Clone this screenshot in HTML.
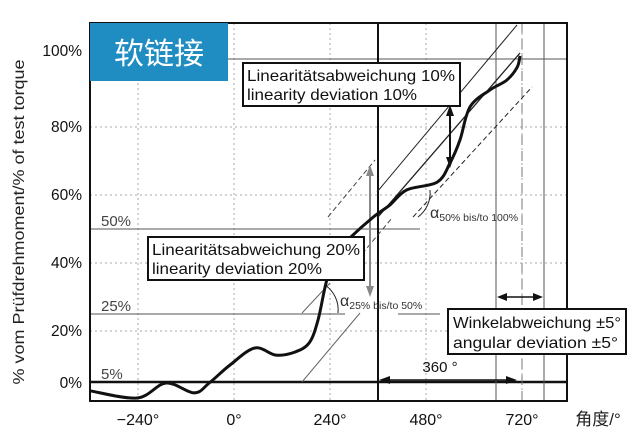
<!DOCTYPE html>
<html><head><meta charset="utf-8"><style>
html,body{margin:0;padding:0;background:#fff;}
svg{display:block;font-family:"Liberation Sans","Noto Sans CJK SC",sans-serif;}
</style></head><body>
<svg id="chart" width="640" height="446" viewBox="0 0 640 446">
<g id="grid"></g>
<g id="guides">
  <line x1="228" y1="59" x2="567" y2="59" stroke="#555" stroke-width="1"/>
  <line x1="90" y1="229" x2="420" y2="229" stroke="#555" stroke-width="1"/>
  <line x1="90" y1="314" x2="345" y2="314" stroke="#555" stroke-width="1"/>
  <line x1="398" y1="314" x2="440" y2="314" stroke="#555" stroke-width="1"/>
  <line x1="90" y1="382" x2="567" y2="382" stroke="#111" stroke-width="2.5"/>
  <line x1="378" y1="23" x2="378" y2="401" stroke="#111" stroke-width="2"/>
  <line x1="496" y1="23" x2="496" y2="401" stroke="#555" stroke-width="1"/>
  <line x1="522" y1="23" x2="522" y2="401" stroke="#777" stroke-width="1" stroke-dasharray="10,6"/>
  <line x1="544" y1="23" x2="544" y2="401" stroke="#555" stroke-width="1"/>
  <line x1="377" y1="192" x2="517" y2="25" stroke="#222" stroke-width="1"/>
  <line x1="378" y1="217" x2="520" y2="53" stroke="#222" stroke-width="1.3"/>
  <line x1="413" y1="217" x2="532" y2="87" stroke="#222" stroke-width="1" stroke-dasharray="5,3"/>
  <line x1="328" y1="217" x2="375" y2="160" stroke="#444" stroke-width="1" stroke-dasharray="5,3"/>
  <line x1="357" y1="260" x2="392" y2="218" stroke="#444" stroke-width="1" stroke-dasharray="5,3"/>
  <line x1="302" y1="313" x2="330" y2="283" stroke="#666" stroke-width="1"/>
  <line x1="302" y1="382" x2="360" y2="313" stroke="#666" stroke-width="1"/>
  <path d="M430,190 A30,30 0 0 1 418,217" fill="none" stroke="#222"/>
  <path d="M325,285 A30,30 0 0 1 338,313" fill="none" stroke="#222"/>
  <line x1="370" y1="172" x2="370" y2="290" stroke="#888" stroke-width="2"/>
  <polygon points="370,165 366,176 374,176" fill="#888"/>
  <polygon points="370,297 366,286 374,286" fill="#888"/>
  <line x1="450" y1="112" x2="450" y2="162" stroke="#111" stroke-width="2"/>
  <polygon points="450,105 446,116 454,116" fill="#111"/>
  <polygon points="450,168 446,157 454,157" fill="#111"/>
  <line x1="386" y1="380" x2="510" y2="380" stroke="#111" stroke-width="1.5"/>
  <polygon points="379,380 390,376 390,384" fill="#111"/>
  <polygon points="517,380 506,376 506,384" fill="#111"/>
  <line x1="503" y1="297" x2="537" y2="297" stroke="#111" stroke-width="1.5"/>
  <polygon points="497,297 507,293 507,301" fill="#111"/>
  <polygon points="543,297 533,293 533,301" fill="#111"/>
</g>
<rect x="90" y="23" width="477" height="378" fill="none" stroke="#111" stroke-width="2"/>
<path id="curve" fill="none" stroke="#111" stroke-width="3" stroke-linejoin="round"/>
<g id="ticks"></g>
<rect x="90" y="23" width="138" height="58" fill="#1f8cc2"/>
<text x="159" y="64" font-size="30" fill="#fff" text-anchor="middle">软链接</text>
<text transform="translate(24,222) rotate(-90)" font-size="16" text-anchor="middle" fill="#222" textLength="325" lengthAdjust="spacingAndGlyphs">% vom Prüfdrehmoment/% of test torque</text>
<text x="598" y="425" font-size="17" text-anchor="middle" fill="#222">角度/°</text>
<g font-size="15" fill="#444">
  <text x="101" y="226">50%</text><text x="101" y="311">25%</text><text x="101" y="379">5%</text>
</g>
<text x="430" y="218" font-size="16" fill="#333">α<tspan font-size="10.5" dy="3">50% bis/to 100%</tspan></text>
<text x="340" y="306" font-size="16" fill="#333">α<tspan font-size="10.5" dy="3">25% bis/to 50%</tspan></text>
<text x="440" y="372" font-size="15" text-anchor="middle" fill="#111">360 °</text>
<g>
  <rect x="243" y="63" width="217" height="43" fill="#fff" stroke="#111" stroke-width="2"/>
  <text x="247" y="81" font-size="16" fill="#111" textLength="208" lengthAdjust="spacingAndGlyphs">Linearitätsabweichung 10%</text>
  <text x="247" y="100" font-size="16" fill="#111" textLength="170" lengthAdjust="spacingAndGlyphs">linearity deviation 10%</text>
</g>
<g>
  <rect x="148" y="237" width="216" height="43" fill="#fff" stroke="#111" stroke-width="2"/>
  <text x="152" y="255" font-size="16" fill="#111" textLength="208" lengthAdjust="spacingAndGlyphs">Linearitätsabweichung 20%</text>
  <text x="152" y="274" font-size="16" fill="#111" textLength="170" lengthAdjust="spacingAndGlyphs">linearity deviation 20%</text>
</g>
<g>
  <rect x="448" y="309" width="178" height="45" fill="#fff" stroke="#111" stroke-width="2"/>
  <text x="453" y="328" font-size="16" fill="#111" textLength="168" lengthAdjust="spacingAndGlyphs">Winkelabweichung ±5°</text>
  <text x="453" y="348" font-size="16" fill="#111" textLength="165" lengthAdjust="spacingAndGlyphs">angular deviation  ±5°</text>
</g>
</svg>
<script>
const xTicks=[-240,0,240,480,720];
const yTicks=[0,20,40,60,80,100];
const curveDeg=[-360,-242,-170,-100,-62,-10,52,105,152,188,210,230,252,290,348,390,432,508,540,565,590,640,682,708,715];
const curvePct=[2.4,0.3,4.7,1.8,4.7,10,15,12.9,13.8,16.5,23.2,34.1,42.4,47.4,53.5,57.1,61.5,63.8,69.4,76.2,85.9,90.9,93.8,97.6,100.9];
const X=d=>234+d*0.4;
const Y=p=>399-p*3.4;
const ns='http://www.w3.org/2000/svg';
const grid=document.getElementById('grid'),ticks=document.getElementById('ticks');
xTicks.forEach(v=>{
  const l=document.createElementNS(ns,'line');
  
  
  l.setAttribute('x1',X(v));l.setAttribute('x2',X(v));l.setAttribute('y1',23);l.setAttribute('y2',401);
  l.setAttribute('stroke','#aaa');l.setAttribute('stroke-dasharray','2,3');
  grid.appendChild(l);
  const t=document.createElementNS(ns,'text');
  
  
  t.setAttribute('x',X(v));t.setAttribute('y',425);t.setAttribute('font-size','16');t.setAttribute('text-anchor','middle');t.setAttribute('fill','#111');
  t.textContent=(v<0?'−':'')+Math.abs(v)+'°';
  ticks.appendChild(t);
});
yTicks.forEach(v=>{
  if(v>0&&v<100){
    const l=document.createElementNS(ns,'line');
    
    
    l.setAttribute('x1',90);l.setAttribute('x2',567);l.setAttribute('y1',Y(v));l.setAttribute('y2',Y(v));
    l.setAttribute('stroke','#aaa');l.setAttribute('stroke-dasharray','2,3');
    grid.appendChild(l);
  }
  const t=document.createElementNS(ns,'text');
  
  
  const yy=v===0?383:(v===100?51:Y(v));
  t.setAttribute('x',82);t.setAttribute('y',yy+5);t.setAttribute('font-size','15.5');t.setAttribute('text-anchor','end');t.setAttribute('fill','#111');
  t.textContent=v+'%';
  ticks.appendChild(t);
});
const pts=curveDeg.map((g,i)=>[X(g),Y(curvePct[i])]);
let d='M'+pts[0][0].toFixed(1)+','+pts[0][1].toFixed(1);
for(let i=0;i<pts.length-1;i++){
  const p0=pts[Math.max(i-1,0)],p1=pts[i],p2=pts[i+1],p3=pts[Math.min(i+2,pts.length-1)];
  const c1=[p1[0]+(p2[0]-p0[0])/6,p1[1]+(p2[1]-p0[1])/6];
  const c2=[p2[0]-(p3[0]-p1[0])/6,p2[1]-(p3[1]-p1[1])/6];
  d+=' C'+c1[0].toFixed(1)+','+c1[1].toFixed(1)+' '+c2[0].toFixed(1)+','+c2[1].toFixed(1)+' '+p2[0].toFixed(1)+','+p2[1].toFixed(1);
}
document.getElementById('curve').setAttribute('d',d);
</script>
</body></html>
